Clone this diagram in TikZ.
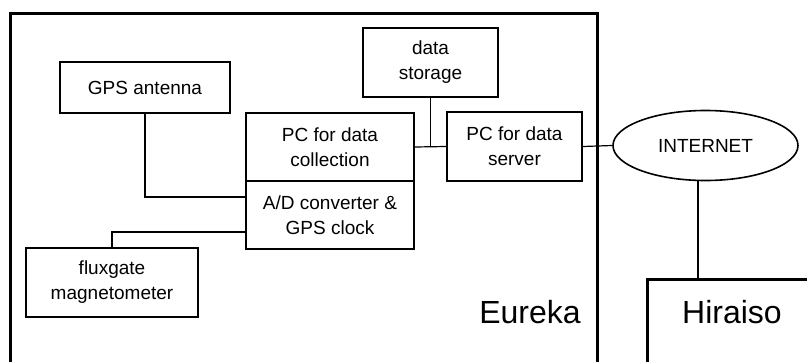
\documentclass[tikz,border=0pt]{standalone}
\usepackage{fontspec}
\setmainfont{Liberation Sans}
\usetikzlibrary{shapes.geometric}
\tikzset{
  unit/.style={draw,line width=1.6pt,align=center,inner sep=2pt,
    font=\fontsize{19}{25}\selectfont},
  link/.style={line width=1.2pt},
  site/.style={line width=3pt},
  sitename/.style={font=\fontsize{32}{36}\selectfont}
}
\begin{document}
\begin{tikzpicture}[x=1pt,y=-1pt]
      \useasboundingbox (0,0) rectangle (807,362);
      % sites
      \draw[site] (10,362) |- (597,13) -- (597,362);
      \draw[site] (647,362) |- (810,279);
      \node[sitename] (eureka) at (530,312) {Eureka};
      \node[sitename] (hiraiso) at (732,312) {Hiraiso};
      % units
      \node[unit,minimum width=170pt,minimum height=51pt] (gps) at (145,87.5) {GPS antenna};
      \node[unit,minimum width=135pt,minimum height=69pt] (store) at (430.5,62.5) {data\\storage};
      \node[unit,minimum width=168pt,minimum height=68pt] (pcc) at (330,147) {PC for data\\collection};
      \node[unit,minimum width=168pt,minimum height=68pt] (adc) at (330,215) {A/D converter \&\\GPS clock};
      \node[unit,minimum width=135pt,minimum height=69pt] (pcs) at (514.5,146.5) {PC for data\\server};
      \node[unit,minimum width=172pt,minimum height=69pt] (flux) at (112,282.5) {fluxgate\\magnetometer};
      \node[unit,ellipse,minimum width=185pt,minimum height=70pt,inner sep=0pt] (inet) at (705.5,145.5) {INTERNET};
      \coordinate (hir) at (698,279);
      % links
      \draw[link] (gps.south) |- ([yshift=18pt]adc.west);
      \draw[link] (flux.north) |- ([yshift=-17pt]adc.west);
      \draw[link] (pcc.east) -- (pcs.west);
      \draw[link] (store.south) -- (store.south |- pcc.east);
      \draw[link] (pcs.east) -- (inet.west);
      \draw[link] (hir |- inet.south) -- (hir);
\end{tikzpicture}
\end{document}
